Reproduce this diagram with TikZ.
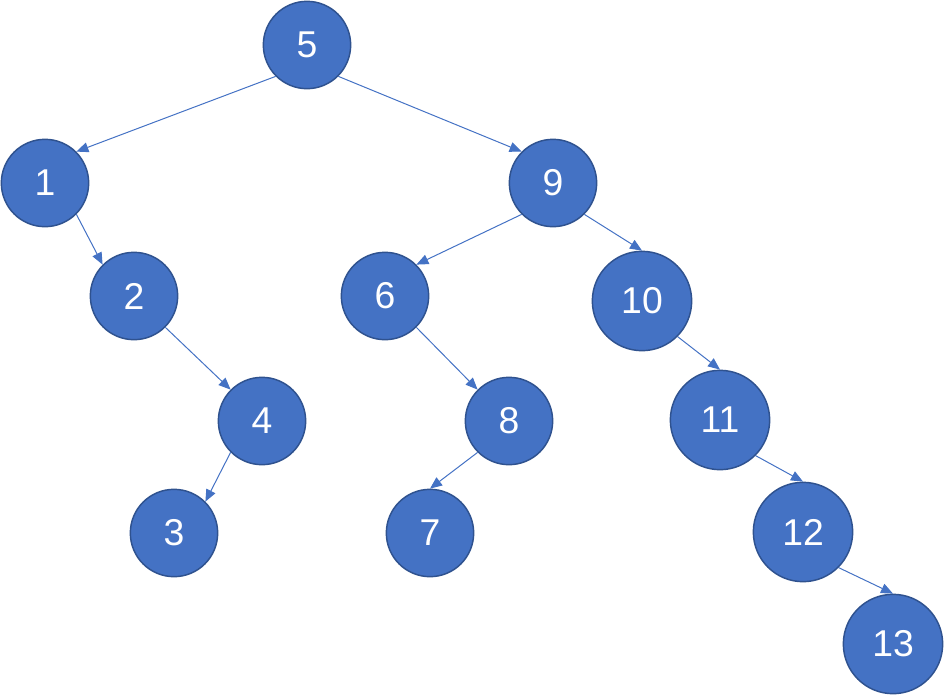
\documentclass[tikz,border=0pt]{standalone}
\usepackage{fontspec}
\setmainfont{Liberation Sans}
\usetikzlibrary{arrows.meta}
\definecolor{vfill}{HTML}{4472C4}
\definecolor{vline}{HTML}{2F528F}
\tikzset{
    vtx/.style={circle, fill=vfill, draw=vline, line width=1.1pt, text=white,
        minimum size=65.5pt, inner sep=0pt, font=\fontsize{28}{30}\selectfont},
    bigvtx/.style={vtx, minimum size=74.5pt},
    link/.style={draw=vfill, line width=.75pt, -{Triangle[length=9pt,width=7.5pt]}}
}
\begin{document}
\begin{tikzpicture}[x=.75pt, y=-.75pt]
    \useasboundingbox (0,0) rectangle (944,696);
    \node[vtx] (n5) at (307,45) {5};
    \node[vtx] (n1) at (45,183) {1};
    \node[vtx] (n9) at (553,183) {9};
    \node[vtx] (n2) at (134,296) {2};
    \node[vtx] (n6) at (385,296) {6};
    \node[bigvtx] (n10) at (642,301) {10};
    \node[vtx] (n4) at (262,421) {4};
    \node[vtx] (n8) at (509,421) {8};
    \node[bigvtx] (n11) at (720,420) {11};
    \node[vtx] (n3) at (174,533) {3};
    \node[vtx] (n7) at (430,533) {7};
    \node[bigvtx] (n12) at (803,532) {12};
    \node[bigvtx] (n13) at (893,644) {13};
    \draw[link] (n5.south west) -- (n1.north east);
    \draw[link] (n5.south east) -- (n9.north west);
    \draw[link] (n1.south east) -- (n2.north west);
    \draw[link] (n2.south east) -- (n4.north west);
    \draw[link] (n4.south west) -- (n3.north east);
    \draw[link] (n9.south west) -- (n6.north east);
    \draw[link] (n9.south east) -- (n10.north);
    \draw[link] (n6.south east) -- (n8.north west);
    \draw[link] (n8.south west) -- (n7.north);
    \draw[link] (n10.south east) -- (n11.north);
    \draw[link] (n11.south east) -- (n12.north);
    \draw[link] (n12.south east) -- (n13.north);
\end{tikzpicture}
\end{document}
